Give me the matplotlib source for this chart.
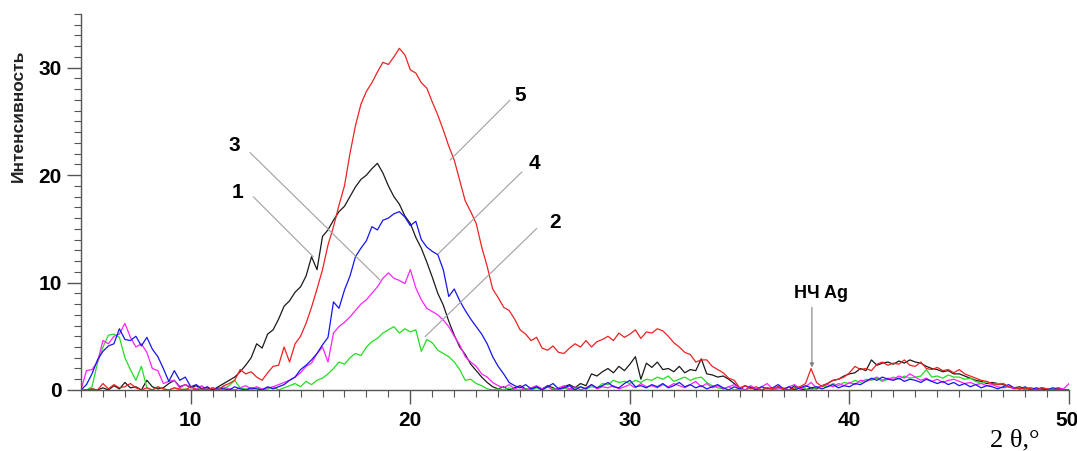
import matplotlib
matplotlib.use("Agg")
import matplotlib.pyplot as plt
import matplotlib.transforms as mtransforms
import numpy as np
from matplotlib.ticker import MultipleLocator

# scan grid, 2theta from 5 to 50 deg, 0.25 deg step
two_theta = np.arange(5.0, 50.001, 0.25)

# intensities, one row = 5 degrees (4 points per degree)
curve1 = [  # black
    0, 0, 0.1, 0, 0.2, 0, 0.4, 0.1, 0.7, 0.2, 0.3, 0, 0.9, 0.3, 0.1, 0.2, 0.6, 0.9, 0.3, 0.5,
    0.2, 0.4, 0.1, 0.2, 0, 0.3, 0.6, 0.9, 1.2, 1.7, 2.3, 3.0, 4.3, 3.9, 5.2, 5.6, 6.6, 7.8, 8.3, 9.1,
    9.6, 10.6, 12.4, 11.2, 14.3, 14.9, 15.8, 16.6, 17.1, 18.0, 18.9, 19.6, 20.0, 20.6, 21.1, 20.2, 19.0, 18.0, 17.3, 16.2,
    15.5, 14.2, 13.2, 11.9, 10.5, 9.0, 7.9, 6.4, 5.1, 4.0, 3.3, 2.4, 1.8, 1.2, 0.7, 0.3, 0.1, 0.3, 0, 0.2,
    0.4, 0.1, 0, 0.3, 0.1, 0.4, 0.2, 0, 0.3, 0.5, 0.2, 0.6, 0.4, 1.5, 1.3, 1.7, 2.0, 1.6, 2.2, 1.8,
    2.4, 3.1, 1.0, 2.5, 2.1, 2.6, 1.9, 2.0, 1.7, 2.2, 1.6, 1.9, 1.8, 2.9, 1.5, 1.4, 1.2, 1.3, 1.0, 0.6,
    0.2, 0, 0.3, 0.1, 0, 0.2, 0, 0.3, 0.1, 0, 0.4, 0.1, 0, 0.2, 0.1, 0.4, 0.6, 0.9, 1.0, 1.3,
    1.5, 1.6, 2.0, 1.8, 2.8, 2.3, 2.5, 2.6, 2.4, 2.7, 2.5, 2.8, 2.6, 2.5, 2.2, 2.0, 1.9, 1.7, 1.8, 1.5,
    1.5, 1.3, 1.1, 0.9, 0.8, 0.6, 0.7, 0.6, 0.5, 0.3, 0.2, 0.3, 0.1, 0.2, 0, 0.2, 0.1, 0, 0.2, 0,
    0,
]
curve2 = [  # green
    0, 0, 0.3, 2.5, 4.0, 5.1, 5.2, 4.9, 3.0, 1.9, 0.9, 2.2, 0.2, 0, 0.3, 0.1, 0, 0.2, 0, 0.1,
    0, 0.1, 0.3, 0, 0.2, 0, 0.1, 0.4, 0.9, 0.2, 0.1, 0, 0.2, 0, 0.1, 0.3, 0, 0.2, 0.4, 0.6,
    0.3, 0.8, 0.5, 0.9, 1.1, 1.5, 2.0, 2.6, 2.4, 3.0, 3.4, 3.2, 4.0, 4.5, 4.8, 5.3, 5.6, 5.9, 5.3, 5.7,
    5.4, 5.6, 3.6, 4.7, 4.4, 3.7, 3.4, 3.1, 2.6, 1.9, 0.9, 1.0, 0.6, 0.4, 0.1, 0, 0.1, 0, 0.2, 0,
    0, 0.1, 0, 0.2, 0, 0.3, 0.1, 0, 0.2, 0, 0.1, 0.3, 0.1, 0.3, 0.2, 0.6, 0.5, 0.9, 0.7, 0.8,
    0.6, 0.9, 0.7, 1.0, 0.9, 1.2, 1.0, 1.3, 0.8, 1.0, 1.2, 0.9, 1.1, 1.2, 0.7, 0.4, 0.2, 0.1, 0.3, 0,
    0.1, 0, 0.2, 0.1, 0, 0.2, 0, 0.1, 0.2, 0, 0.1, 0.3, 0.1, 0, 0.2, 0.4, 0.3, 0.6, 0.4, 0.7,
    0.6, 0.9, 0.7, 1.0, 0.9, 1.1, 0.8, 1.0, 1.2, 1.0, 1.3, 1.1, 1.2, 1.3, 1.9, 1.2, 1.3, 1.1, 1.4, 1.2,
    1.2, 1.0, 1.1, 0.8, 0.6, 0.8, 0.5, 0.6, 0.6, 0.3, 0.2, 0.1, 0.2, 0, 0.1, 0, 0, 0.1, 0, 0,
    0,
]
curve3 = [  # magenta
    0, 1.8, 1.9, 2.6, 4.6, 4.3, 5.0, 5.2, 6.2, 4.9, 4.0, 4.3, 3.5, 2.0, 1.8, 0.6, 0.8, 0.9, 0.2, 0.5,
    0.3, 0.1, 0.4, 0, 0.2, 0, 0.3, 0.1, 0, 0.2, 0.4, 0.1, 0.3, 0.1, 0.2, 0.3, 0.5, 0.7, 0.9, 1.2,
    1.6, 2.2, 2.5, 3.4, 4.0, 2.6, 5.3, 5.9, 6.3, 6.8, 7.4, 8.0, 8.4, 9.0, 9.6, 10.4, 10.9, 10.4, 10.2, 9.9,
    11.2, 9.5, 8.4, 7.6, 7.3, 7.0, 6.5, 5.9, 5.0, 4.2, 3.1, 2.6, 2.2, 1.5, 1.2, 0.7, 0.4, 0.2, 0.5, 0.1,
    0.3, 0, 0.2, 0.4, 0.1, 0.3, 0, 0.2, 0.4, 0.1, 0.3, 0, 0.2, 0.5, 0.1, 0.3, 0.2, 0.4, 0.1, 0.3,
    0.5, 0.2, 0.6, 0.3, 0.4, 0.2, 0.5, 0.3, 0.6, 0.4, 0.2, 0.5, 0.8, 0.3, 0.6, 0.2, 0.4, 0.1, 0.3, 0.5,
    0.2, 0, 0.4, 0.1, 0.3, 0.6, 0.1, 0.2, 0, 0.3, 0.5, 0.1, 0.3, 0.7, 0.2, 0.4, 0.5, 0.3, 0.6, 0.4,
    0.7, 0.5, 0.9, 0.8, 1.0, 1.2, 0.9, 1.1, 1.0, 1.3, 1.1, 1.5, 1.2, 0.9, 1.1, 0.8, 1.0, 0.7, 0.9, 1.0,
    0.8, 0.6, 0.7, 0.5, 0.6, 0.4, 0.5, 0.3, 0.2, 0.3, 0.1, 0.2, 0, 0.2, 0.1, 0, 0.1, 0, 0.2, 0.1,
    0.6,
]
curve4 = [  # blue
    0, 0.5, 1.5, 2.8, 3.6, 4.1, 4.3, 5.7, 4.7, 4.6, 5.0, 4.1, 4.9, 3.8, 3.1, 2.0, 0.8, 1.8, 0.9, 1.2,
    0.3, 0.5, 0.1, 0.3, 0, 0.2, 0.1, 0, 0.3, 0.1, 0, 0.2, 0.1, 0, 0.3, 0.1, 0.3, 0.5, 0.9, 1.2,
    1.9, 2.3, 2.8, 3.4, 4.2, 4.9, 8.2, 7.6, 9.3, 10.6, 12.4, 13.2, 13.9, 15.2, 14.9, 15.8, 16.0, 16.4, 16.6, 16.1,
    15.3, 15.7, 14.0, 13.3, 12.9, 12.6, 11.2, 8.7, 9.4, 8.3, 7.4, 6.6, 5.9, 5.2, 4.3, 3.1, 2.2, 1.5, 0.7, 0.4,
    0.2, 0.5, 0.1, 0.3, 0, 0.3, 0.6, 0.1, 0.2, 0.4, 0, 0.3, 0.1, 0.5, 0.2, 0.4, 0.7, 0.3, 0.2, 0.6,
    0.9, 0.3, 0.4, 0.2, 0.5, 0.3, 0.6, 0.2, 0.4, 0.7, 0.3, 0.5, 0.2, 0.4, 0.1, 0.3, 0.5, 0.2, 0, 0.3,
    0.1, 0.4, 0.2, 0, 0.3, 0.1, 0.2, 0.5, 0.1, 0.3, 0, 0.2, 0.4, 0.2, 0.3, 0.1, 0.3, 0.5, 0.2, 0.4,
    0.3, 0.6, 0.5, 0.8, 1.1, 0.9, 1.2, 1.0, 0.9, 1.1, 0.8, 1.0, 0.9, 0.7, 1.0, 0.8, 0.6, 0.8, 0.5, 0.7,
    0.4, 0.6, 0.3, 0.5, 0.2, 0.4, 0.3, 0.1, 0.3, 0.5, 0.2, 0.1, 0.3, 0, 0.2, 0.1, 0, 0.2, 0.1, 0,
    0,
]
curve5 = [  # red
    0, 0, 0.1, 0, 0.6, 0.1, 0.5, 0.2, 0.3, 0.6, 0.2, 0, 0.2, 0, 0.3, 0.1, 0, 0.2, 0.1, 0,
    0.3, 0, 0.1, 0, 0.2, 0, 0.4, 0.6, 0.9, 1.9, 1.5, 1.7, 1.2, 0.9, 1.6, 2.2, 2.3, 4.0, 2.6, 4.3,
    5.0, 6.2, 7.7, 9.4, 11.2, 13.5, 15.2, 17.2, 19.0, 22.0, 24.6, 26.6, 27.8, 28.6, 29.6, 30.5, 30.3, 31.0, 31.8, 31.2,
    29.8, 29.5, 28.6, 28.1, 26.8, 25.6, 24.2, 22.7, 21.4, 19.5, 17.6, 16.6, 15.5, 13.3, 11.5, 9.4, 8.6, 7.7, 7.4, 6.6,
    5.6, 5.2, 4.6, 4.9, 3.9, 3.7, 4.1, 3.5, 3.4, 3.9, 4.3, 4.0, 4.6, 4.0, 4.5, 4.7, 5.0, 4.6, 5.3, 4.9,
    5.2, 5.6, 4.8, 5.4, 5.3, 5.7, 5.5, 5.0, 4.4, 4.0, 3.5, 3.3, 2.6, 2.8, 2.8, 2.2, 1.9, 1.6, 1.1, 0.9,
    0.2, 0.4, 0.1, 0.3, 0, 0.2, 0.1, 0.3, 0.1, 0, 0.2, 0.3, 0.6, 2.0, 0.7, 0.3, 0.6, 0.9, 1.0, 1.2,
    1.6, 2.2, 1.9, 2.0, 1.8, 2.4, 2.6, 2.3, 2.5, 2.4, 2.8, 2.3, 2.2, 2.6, 2.0, 1.9, 2.1, 1.8, 1.9, 1.6,
    1.9, 1.5, 1.3, 1.1, 0.9, 0.8, 0.6, 0.5, 0.6, 0.3, 0.2, 0.1, 0.2, 0.1, 0, 0.2, 0.1, 0, 0.1, 0,
    0,
]

series = [
    ("1", curve1, "#1a1a1a"),
    ("2", curve2, "#22dd22"),
    ("3", curve3, "#ff22ff"),
    ("4", curve4, "#1515ee"),
    ("5", curve5, "#ee2222"),
]

# curve number labels: text position and the point on the curve it points to
curve_labels = [
    ("1", (12.15, 18.4), (15.58, 12.4)),
    ("2", (26.6, 15.6), (20.67, 4.96)),
    ("3", (12.0, 22.8), (18.62, 10.23)),
    ("4", (25.64, 21.1), (21.28, 12.7)),
    ("5", (25.0, 27.4), (21.81, 21.4)),
]
leader_start = {
    "1": (12.85, 17.98),
    "2": (25.76, 15.04),
    "3": (12.7, 22.1),
    "4": (25.08, 20.3),
    "5": (24.54, 26.98),
}

x_major = [10, 20, 30, 40, 50]
y_major = [0, 10, 20, 30]

sans = ["Liberation Sans", "DejaVu Sans"]

fig = plt.figure(figsize=(10.77, 4.51), dpi=100)
ax = fig.add_axes([0.0752, 0.1353, 0.9174, 0.8337])

for name, vals, color in series:
    ax.plot(two_theta, vals, color=color, linewidth=0.9)

for name, text_xy, end_xy in curve_labels:
    ax.text(*text_xy, name, fontsize=15, fontweight="bold", family=sans,
            ha="center", va="center")
    ax.annotate("", xy=end_xy, xytext=leader_start[name],
                arrowprops=dict(arrowstyle="-", color="#a0a0a0", lw=0.8,
                                shrinkA=0, shrinkB=0),
                annotation_clip=False)

# silver nanoparticle peak marker
ax.text(38.71, 9.0, "НЧ Ag", fontsize=13, fontweight="bold", family=sans,
        ha="center", va="center")
ax.annotate("", xy=(38.29, 2.1), xytext=(38.29, 7.7),
            arrowprops=dict(arrowstyle="-|>", color="#808080", lw=0.8,
                            mutation_scale=6, shrinkA=0, shrinkB=0))

ax.set_xlim(5, 50)
ax.set_ylim(0, 35)
ax.set_xticks(x_major)
ax.set_yticks(y_major)
ax.xaxis.set_minor_locator(MultipleLocator(1))
ax.yaxis.set_minor_locator(MultipleLocator(1))
ax.tick_params(which="major", length=10, width=1, color="#555555", pad=4)
ax.tick_params(which="minor", length=5, width=0.8, color="#555555")
ax.tick_params(axis="x", which="major", pad=5)
for lab in ax.get_xticklabels() + ax.get_yticklabels():
    lab.set_fontfamily(sans)
    lab.set_fontweight("bold")
    lab.set_fontsize(15)
ax.spines["top"].set_visible(False)
ax.spines["right"].set_visible(False)
for sp in ("left", "bottom"):
    ax.spines[sp].set_color("#555555")
    ax.spines[sp].set_linewidth(1.0)

# keep the "50" label inside the figure, as in the original
last = ax.get_xticklabels()[-1]
last.set_horizontalalignment("right")
last.set_transform(last.get_transform() +
                   mtransforms.ScaledTranslation(7 / 72, 0, fig.dpi_scale_trans))

fig.text(18 / 1077, 1 - 116 / 451, "Интенсивность", rotation=90,
         fontsize=12.5, fontweight="bold", family=sans, color="#222222",
         ha="center", va="center")
fig.text(1015 / 1077, 1 - 446 / 451, "2 θ,°", fontsize=19,
         family=["Liberation Serif", "DejaVu Serif"], ha="center", va="baseline")

fig.savefig("out.png", dpi=100)
